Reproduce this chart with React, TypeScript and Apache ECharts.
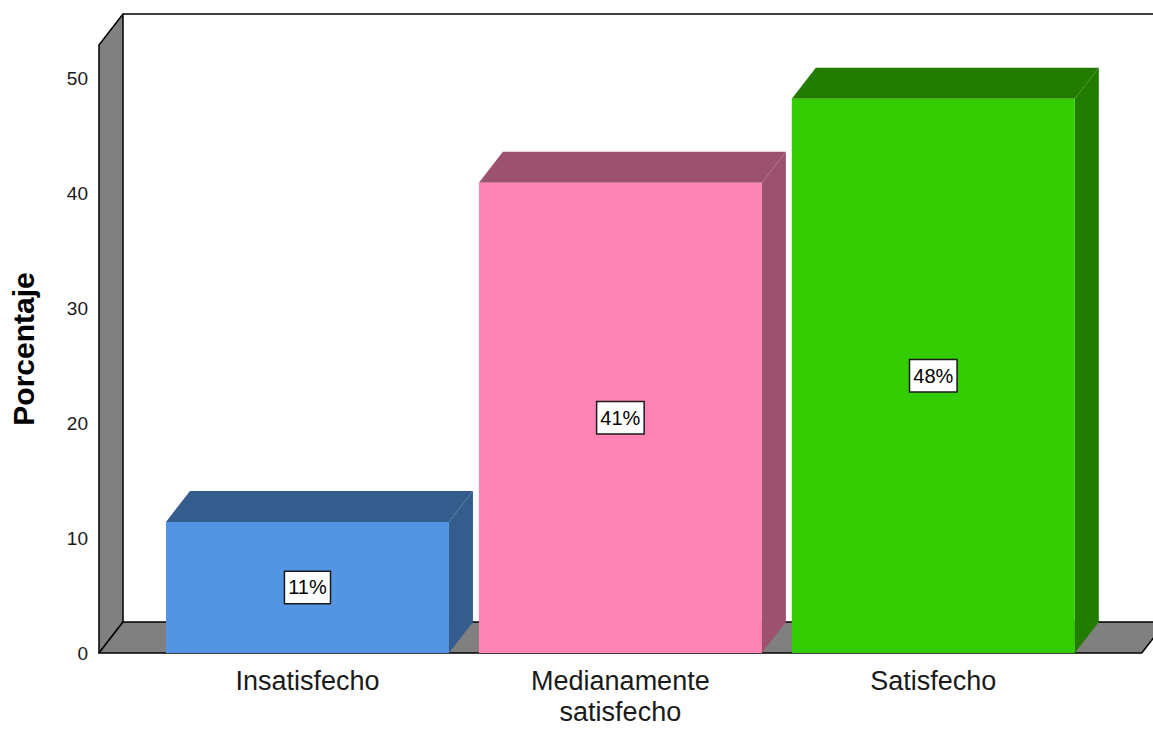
import React, { useEffect, useRef } from "react";
import * as echarts from "echarts";

const categories = ["Insatisfecho", "Medianamente\nsatisfecho", "Satisfecho"];
const values = [11.4, 40.9, 48.2];
const frontColors = ["#5394E3", "#FF84B4", "#33CC00"];
const darkColors = ["#345C8D", "#9C516F", "#217C00"];
const yTickStep = 10;
const yMax = 52.87;
const yTitle = "Porcentaje";

const DX = 24;
const DY = 31;
const PAD = 52;
const BAR_W = 283;
const FONT = "'Liberation Sans', Arial, sans-serif";

export default function App() {
  const ref = useRef<HTMLDivElement>(null);

  useEffect(() => {
    if (!ref.current) return;
    const chart = echarts.init(ref.current, null, { renderer: "svg" });

    const option: any = {
      animation: false,
      backgroundColor: "#ffffff",
      grid: { left: 150, right: 63.25, top: 45, bottom: 76 },
      xAxis: {
        type: "category",
        data: categories,
        axisLine: { show: false },
        axisTick: { show: false },
        axisLabel: {
          margin: 12,
          fontSize: 27,
          lineHeight: 31,
          fontFamily: FONT,
          color: "#1a1a1a",
          interval: 0,
        },
      },
      yAxis: {
        type: "value",
        min: 0,
        max: yMax,
        interval: yTickStep,
        offset: PAD,
        name: yTitle,
        nameLocation: "middle",
        nameGap: 61,
        nameRotate: 90,
        nameTextStyle: {
          fontSize: 30,
          fontWeight: "bold",
          fontFamily: FONT,
          color: "#000",
        },
        axisLine: { show: false },
        axisTick: { show: false },
        splitLine: { show: false },
        axisLabel: {
          margin: 11,
          fontSize: 19,
          fontFamily: FONT,
          color: "#1a1a1a",
          formatter: (v: number) =>
            Math.abs(v % yTickStep) < 1e-6 ? String(v) : "",
        },
      },
      series: [
        {
          type: "custom",
          z: 1,
          silent: true,
          data: [[0, 0]],
          encode: { x: 0, y: 1 },
          renderItem: (params: any, api: any) => {
            const cs = params.coordSys;
            const y0 = api.coord([0, 0])[1];
            const yTop = cs.y;
            const xL = cs.x - PAD;
            const xR = cs.x + cs.width + PAD;
            const wallStyle = {
              fill: "#808080",
              stroke: "#000",
              lineWidth: 1.5,
              lineJoin: "round",
            };
            return {
              type: "group",
              children: [
                {
                  type: "line",
                  shape: {
                    x1: xL + DX,
                    y1: yTop - DY,
                    x2: xR + DX + 20,
                    y2: yTop - DY,
                  },
                  style: { stroke: "#000", lineWidth: 1.5 },
                },
                {
                  type: "polygon",
                  shape: {
                    points: [
                      [xL, yTop],
                      [xL + DX, yTop - DY],
                      [xL + DX, y0 - DY],
                      [xL, y0],
                    ],
                  },
                  style: wallStyle,
                },
                {
                  type: "polygon",
                  shape: {
                    points: [
                      [xL, y0],
                      [xL + DX, y0 - DY],
                      [xR + DX, y0 - DY],
                      [xR, y0],
                    ],
                  },
                  style: wallStyle,
                },
              ],
            };
          },
        },
        {
          type: "custom",
          z: 2,
          silent: true,
          data: values.map((v, i) => [i, v]),
          encode: { x: 0, y: 1 },
          renderItem: (params: any, api: any) => {
            const idx = api.value(0);
            const v = api.value(1);
            const [cx, yTop] = api.coord([idx, v]);
            const y0 = api.coord([idx, 0])[1];
            const l = cx - BAR_W / 2;
            const r = cx + BAR_W / 2;
            const dark = darkColors[idx];
            const front = frontColors[idx];
            return {
              type: "group",
              children: [
                {
                  type: "polygon",
                  shape: {
                    points: [
                      [r, yTop],
                      [r + DX, yTop - DY],
                      [r + DX, y0 - DY],
                      [r, y0],
                    ],
                  },
                  style: { fill: dark },
                },
                {
                  type: "polygon",
                  shape: {
                    points: [
                      [l, yTop],
                      [l + DX, yTop - DY],
                      [r + DX, yTop - DY],
                      [r, yTop],
                    ],
                  },
                  style: { fill: dark },
                },
                {
                  type: "rect",
                  shape: { x: l, y: yTop, width: r - l, height: y0 - yTop },
                  style: { fill: front },
                },
                {
                  type: "text",
                  x: cx,
                  y: (yTop + y0) / 2,
                  style: {
                    text: Math.round(v) + "%",
                    fill: "#000",
                    fontSize: 20,
                    fontFamily: FONT,
                    align: "center",
                    verticalAlign: "middle",
                    backgroundColor: "#ffffff",
                    borderColor: "#1a1a1a",
                    borderWidth: 1.5,
                    padding: [6, 3, 5, 3],
                  },
                },
              ],
            };
          },
        },
      ],
    };

    chart.setOption(option);
    return () => chart.dispose();
  }, []);

  return (
    <div
      ref={ref}
      style={{
        position: "fixed",
        left: 0,
        top: 0,
        width: "1153px",
        height: "729px",
      }}
    />
  );
}
